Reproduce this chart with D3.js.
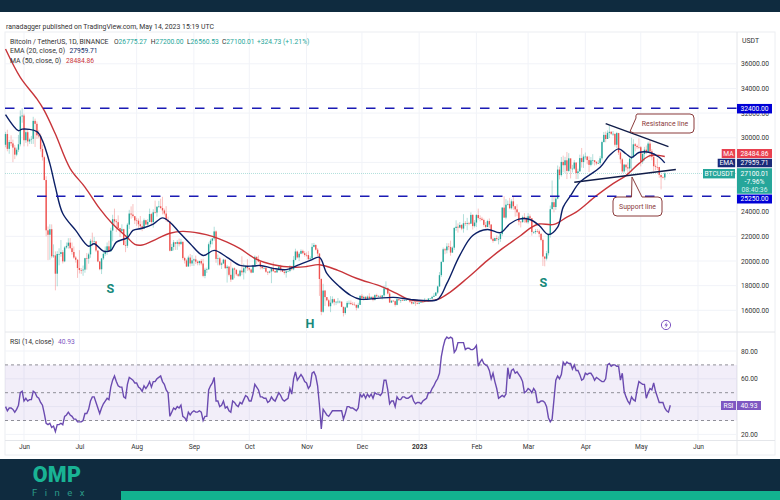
<!DOCTYPE html>
<html>
<head>
<meta charset="utf-8">
<style>
  html, body { margin: 0; padding: 0; background: #fff; }
  svg { display: block; }
  text { font-family: Roboto, "Open Sans", sans-serif; }
</style>
<script src="https://cdn.jsdelivr.net/npm/d3@7"></script>
</head>
<body>
<svg id="chart" width="780" height="500"></svg>
<script>
// daily candles, first one is 2022-05-22
const firstDay = Date.UTC(2022, 4, 22)
const firstOpen = 29430

const closes = [
  30300,29100,29650,29540,29200,28630,29030,29470,31730,31800,
  29800,30450,29700,29860,29910,31370,31130,30200,30110,29090,28420,26570,22490,22130,22580,20380,20450,18970,20570,20570,20720,19970,21100,21230,21490,21040,20730,20280,20100,19430,
  19270,19240,19300,20230,20190,20540,21640,21590,21590,20850,19960,19330,20210,20580,20830,21190,20780,22470,23390,23220,23150,22680,22450,22580,21300,21240,22950,23850,23770,23640,23290,
  23270,22980,22820,22620,23310,22960,23170,23810,23160,23950,23930,24400,24440,24300,24100,23850,23340,23200,20830,21140,21520,21400,21530,21370,21560,20240,20040,19550,20280,19800,20050,
  20130,19950,19830,20000,19800,18790,19290,19320,21360,21650,21830,22400,20170,20220,19700,19800,20110,19420,19540,18880,18490,19400,19300,18920,18800,19220,19080,19410,19590,19420,
  19310,19060,19620,20340,20160,19950,19530,19420,19440,19130,19060,19150,19380,19180,19070,19260,19550,19330,19120,19040,19160,19200,19570,19330,20090,20770,20290,20590,20820,20630,20490,
  20480,20150,20210,21150,21300,20920,20600,18540,15880,17600,17070,16810,16330,16620,16900,16660,16690,16700,16700,16280,15780,16230,16600,16600,16520,16460,16430,16210,16440,17170,
  16970,17090,16890,17110,16970,17090,16840,17230,17130,17130,17080,17210,17780,17810,17360,16630,16780,16740,16440,16900,16820,16830,16780,16840,16840,16920,16700,16550,16630,16600,16540,
  16620,16680,16670,16850,16830,16950,16950,17090,17180,17440,17940,18850,19930,20950,20870,21180,21140,20680,21080,22680,22780,22710,22920,22630,23060,23010,23080,23030,23740,22830,23120,
  23730,23490,23430,23330,22930,22760,23240,22960,21800,21630,21860,21780,21780,22200,24330,23520,24570,24630,24280,24840,24440,24190,23950,23190,23160,23560,23490,23140,
  23630,23470,22350,22350,22430,22410,22200,21710,20360,20190,20630,22160,24200,24770,24380,25060,27420,26970,28040,27770,28170,27310,28330,27490,27490,27990,27140,27270,28350,28030,28470,
  28470,28190,27800,28170,28170,28040,27920,27950,28330,29650,30230,29900,30400,30480,30320,30320,29430,30380,28800,28250,27270,27820,27600,27510,28300,28420,29470,29340,29240,29230,
  28070,28680,29030,28850,29530,28900,28450,27690,27630,27620,26990,26800,26780,27100
]
const highs = [
  30480,30650,29830,30200,29850,29400,29200,30230,32220,32400,
  31950,30650,30690,29950,30150,31700,31550,31320,30640,30340,29440,28540,26880,22800,22980,22970,21350,20780,20800,21030,21700,20880,21200,21500,21850,21860,21500,21180,20400,20150,
  20880,19430,19630,20260,20650,20670,21800,22300,21950,21600,20850,20000,20250,20850,21180,21500,21650,22700,23750,24250,23400,23700,22650,22980,22620,21660,23090,24150,24430,24620,23500,
  23500,23450,23650,23230,23450,23350,23400,24250,23900,24200,24900,24450,24880,25050,25210,24250,24450,23600,23200,21380,21700,21520,21680,21820,21800,21560,20340,20150,20430,20570,20480,
  20200,20440,20050,20030,20150,20180,19450,19460,21500,21800,21850,22780,22480,20540,20340,19900,20180,20100,19680,19600,19950,19480,19480,19180,19000,19300,20380,19780,19630,20150,
  19480,19390,19690,20450,20360,20450,20050,19600,19500,19520,19150,19220,19500,19930,19220,19370,19680,19700,19350,19340,19240,19250,19680,19600,20400,21000,20850,20730,20950,20920,20800,
  20700,20800,20390,21450,21470,21350,21050,20650,18600,18150,17650,17080,16930,17150,17130,16950,16750,17000,16800,16740,16300,16300,16750,16800,16800,16680,16650,16490,16610,17240,
  17320,17190,17160,17200,17380,17120,17140,17300,17350,17230,17260,17240,18000,18350,17850,17520,16800,16810,16800,17040,16900,16860,16900,16860,16860,16940,16960,16790,16650,16650,16640,
  16630,16770,16760,17000,16880,16990,16980,17180,17390,17490,18000,19100,19960,21090,21050,21450,21440,21650,21180,22750,23300,23050,23160,23000,23800,23240,23500,23180,23950,23800,23320,
  23810,24250,23700,23580,23440,23160,23350,23450,22990,21900,21900,22080,21990,22320,24380,25250,25020,24900,25120,25000,25250,24470,24600,23900,23220,23690,23880,23600,
  23880,23780,23480,22420,22600,22600,22550,22270,21820,20370,20820,22190,24500,26530,25250,25190,27750,27650,28440,28550,28450,28850,28750,28200,27800,28200,28000,27490,28630,29170,28650,
  28800,28530,28500,28440,28670,28180,28100,28170,28530,29770,30470,30500,30600,31000,30550,30550,30320,30480,30400,28900,28350,27880,27820,28000,28390,30000,29880,29570,29450,29950,
  29330,28870,29260,29370,29680,29820,29080,28630,27830,28320,27640,26950,26880,27200
]
const lows = [
  29230,28900,28700,29320,28020,28270,28500,28850,29300,31220,
  29300,29580,29300,29500,29500,29500,29250,29900,29950,28880,28150,26560,22000,20070,20100,20230,20250,17620,17950,19650,20350,19800,19900,21000,21000,20950,20520,20180,19870,18630,
  18990,18960,18800,19050,19300,19780,20260,21200,21320,20720,19900,19250,18940,20080,20420,20500,20770,20780,21600,22950,22350,22600,21950,22280,21270,20720,21050,22600,23430,23500,23000,
  22850,22680,22700,22420,22600,22900,22850,23150,22900,22700,23850,23600,24300,24200,23780,23700,23200,23150,20780,20800,20860,20900,20900,21180,21320,20100,19800,19520,19570,19550,19600,
  19600,19750,19650,19650,19650,18680,18600,19030,19300,21100,21350,21650,19850,19650,19600,19350,19750,19350,18250,18750,18300,18600,18600,18800,18700,18700,18850,18500,19000,19200,
  19170,19000,19030,19500,19750,19900,19320,19320,19350,19050,18860,19000,18200,19100,19050,19070,19200,19100,19100,18900,18650,19100,19090,19240,19250,20050,20200,20000,20550,20550,20350,
  20350,20050,20040,20180,21100,20850,20400,17170,15600,15800,16350,16730,16260,15850,16530,16400,16420,16550,16570,16250,15500,15650,16180,16460,16430,16400,16400,15990,16120,16430,
  16860,16790,16880,16890,16900,16900,16730,16790,17090,17090,17070,16880,17080,17660,17280,16600,16590,16680,16300,16400,16750,16600,16770,16790,16780,16820,16600,16470,16500,16360,16490,
  16500,16600,16620,16650,16760,16680,16910,16920,17120,17160,17320,17900,18700,19890,20550,20620,20880,20430,20670,20900,22450,22300,22650,22500,22300,22850,22500,22900,23000,22550,22720,
  22760,23360,23220,23260,22780,22640,22740,22700,21700,21480,21600,21620,21350,21550,22050,23500,23380,24500,24200,24180,24150,23600,23630,22900,22720,23100,23100,23060,
  23020,23230,22060,22200,22180,22300,21930,21600,19600,19570,20050,20450,21900,24300,23950,24150,25000,26620,26850,27200,27150,26650,27200,26700,27180,27400,26650,26650,27250,27580,27550,
  28250,27850,27220,27680,27840,27750,27780,27880,27800,28170,29620,29630,29900,29980,30230,30150,29280,29150,28600,27900,27150,27150,27350,27100,27200,27250,28380,28900,29070,29100,
  27680,27880,28130,28670,28830,28400,28170,27280,27370,27380,26750,25810,26700,26560
]
const rsiValues = [
  40,37,39,39,38,36,38,41,50,51,
  44,46,44,45,45,51,50,47,46,43,41,35,28,27,28,25,26,22,27,27,28,27,33,34,36,34,33,31,31,29,
  29,29,30,35,35,38,44,47,47,43,39,35,39,42,44,46,45,54,59,62,58,55,54,54,47,46,56,61,60,59,57,
  57,54,53,51,55,53,55,58,54,58,58,60,61,62,58,56,52,50,33,36,39,38,40,39,41,33,32,30,36,34,36,
  37,36,36,37,36,30,33,33,52,55,57,61,44,44,40,41,44,39,40,37,36,44,43,41,40,43,42,45,48,47,
  44,44,49,56,54,52,47,47,46,46,43,44,47,45,44,47,50,48,45,44,45,46,53,49,60,65,59,61,63,61,58,
  57,53,55,64,65,62,55,41,24,38,36,34,33,35,37,37,37,37,37,37,31,35,40,40,39,39,38,37,39,49,
  47,49,46,49,47,49,46,50,49,49,48,50,59,59,52,42,44,44,40,47,45,45,47,47,46,46,47,48,44,42,43,
  43,42,44,45,46,50,50,53,55,58,60,64,76,83,88,90,89,90,89,79,81,86,86,86,86,81,82,82,81,81,82,84,69,72,
  74,71,70,69,66,60,64,58,53,46,47,48,47,49,68,60,66,67,64,65,63,61,58,50,51,53,52,50,
  53,51,43,43,44,44,43,40,32,29,31,45,59,62,60,63,72,70,72,71,71,67,70,66,66,63,59,60,64,63,64,
  64,62,59,61,60,59,58,58,60,70,71,69,70,70,69,69,59,64,51,47,44,42,47,45,44,52,58,57,56,56,
  46,50,53,52,57,51,47,43,43,43,39,37,36,41
]

// moving averages at these day numbers
const emaDays = [0,7,9,17,20,24,27,31,38,45,48,53,57,60,66,69,74,80,85,89,94,100,107,113,120,127,134,138,145,152,158,165,170,174,181,187,192,201,210,219,226,234,239,246,253,261,268,273,278,284,289,294,299,302,306,311,322,327,332,336,339,343,349,354,357]
const emaValues = [31870,30575,30700,30500,29770,27900,26000,23850,22480,21200,21400,20800,20860,21530,21900,22480,22660,23000,23500,23150,22340,21400,20450,20860,20300,19640,19590,19640,19400,19300,19640,20050,20300,19000,17900,17200,16900,16970,17050,16890,16800,16890,18180,20450,22070,22560,22300,23000,23400,23370,22880,22150,22750,24370,25300,26400,27600,28550,29100,28700,28400,28800,28800,28420,27960]
const maDays = [0,8,17,21,27,35,43,51,58,66,70,74,82,89,96,105,112,120,127,136,145,156,163,170,180,190,204,212,218,226,234,241,250,261,269,279,285,289,297,304,309,320,329,336,343,349,357]
const maValues = [37200,34900,33150,32200,30300,27500,26000,24250,23000,21900,21350,21300,21800,22250,22400,22250,22000,21530,21000,20130,19700,19500,19550,19700,19240,18600,17900,17350,16900,16750,16890,17500,18600,20050,21000,22070,22750,23000,22970,23560,23960,25300,26280,26930,27900,28550,28480]

const priceTicks = [36000,34000,32000,30000,24000,22000,20000,18000,16000]
const gridPrices = [36000,34000,32000,30000,28000,26000,24000,22000,20000,18000,16000]
const rsiTicks = [80,60,20]
const gridRsi = [80,60,40,20]
const rsiLevels = [70,50,30]
const monthLabels = ['Jun','Jul','Aug','Sep','Oct','Nov','Dec','2023','Feb','Mar','Apr','May','Jun']
const monthDates = [[2022,5],[2022,6],[2022,7],[2022,8],[2022,9],[2022,10],[2022,11],[2023,0],[2023,1],[2023,2],[2023,3],[2023,4],[2023,5]].map(d => new Date(Date.UTC(d[0], d[1], 1)))

const levels = [32400, 25250]
const resistanceDays = [325, 359], resistancePrices = [31140, 29280]
const supportDays = [308, 363], supportPrices = [26390, 27420]

const dark = '#0f2b3f', up = '#26a69a', down = '#ef5350', blue = '#1a1ab4', navy = '#0b1f66', red = '#c8353a', purple = '#7e57c2', callout = '#8a3b3b', axisText = '#333'
const textSize = 6.9, numberSize = 6.7

const left = 5, right = 737, outer = 775
const svg = d3.select('#chart')

const x = d3.scaleUtc()
  .domain([new Date(Date.UTC(2022, 5, 1)), new Date(Date.UTC(2023, 5, 1))])
  .range([24, 698])
const dayDate = i => new Date(firstDay + i * 864e5)
const xd = i => x(dayDate(i))
const y = d3.scaleLinear().domain([16000, 36000]).range([310.3, 63.8])
const yr = d3.scaleLinear().domain([20, 80]).range([434.4, 351])

// page bands
svg.append('rect').attr('width', 780).attr('height', 12).attr('fill', dark)
svg.append('rect').attr('y', 459).attr('width', 780).attr('height', 41).attr('fill', dark)
svg.append('rect').attr('x', 121).attr('y', 491).attr('width', 659).attr('height', 9).attr('fill', '#12b28f')

// frame
svg.append('rect').attr('x', left).attr('y', 32).attr('width', outer - left).attr('height', 423)
  .attr('fill', '#fff').attr('stroke', '#eceef2')
svg.append('line').attr('x1', left).attr('x2', outer).attr('y1', 332).attr('y2', 332).attr('stroke', '#e4e6ea')
svg.append('line').attr('x1', left).attr('x2', outer).attr('y1', 440.5).attr('y2', 440.5).attr('stroke', '#e4e6ea')
svg.append('line').attr('x1', right).attr('x2', right).attr('y1', 32).attr('y2', 455).attr('stroke', '#e4e6ea')

// grid
const grid = svg.append('g').attr('stroke', '#f1f3f8')
grid.selectAll('.gy').data(gridPrices).enter().append('line')
  .attr('x1', left).attr('x2', right).attr('y1', d => y(d)).attr('y2', d => y(d))
grid.selectAll('.gr').data(gridRsi).enter().append('line')
  .attr('x1', left).attr('x2', right).attr('y1', d => yr(d)).attr('y2', d => yr(d))
grid.selectAll('.gx').data(monthDates).enter().append('line')
  .attr('x1', d => x(d)).attr('x2', d => x(d)).attr('y1', 32).attr('y2', 440)

// rsi band and levels
svg.append('rect').attr('x', left).attr('width', right - left)
  .attr('y', yr(70)).attr('height', yr(30) - yr(70)).attr('fill', purple).attr('fill-opacity', 0.1)
svg.selectAll('.rl').data(rsiLevels).enter().append('line')
  .attr('x1', left).attr('x2', right).attr('y1', d => yr(d)).attr('y2', d => yr(d))
  .attr('stroke', '#8f8f98').attr('stroke-dasharray', '3 3')

svg.append('path').datum(rsiValues)
  .attr('d', d3.line().x((d, i) => xd(i)).y(d => yr(d)))
  .attr('fill', 'none').attr('stroke', '#6b4bb0').attr('stroke-width', 1.4)
  .style('filter', 'blur(0.25px)')

// last price line
svg.append('line').attr('x1', left).attr('x2', right).attr('y1', y(27100)).attr('y2', y(27100))
  .attr('stroke', up).attr('stroke-opacity', 0.5).attr('stroke-dasharray', '1 1').attr('stroke-width', 0.7)

// candles, slightly soft like the screenshot
const candleData = closes.map((c, i) => ({ i, o: i ? closes[i - 1] : firstOpen, c, h: highs[i], l: lows[i] }))
const candles = svg.append('g').style('filter', 'blur(0.35px)')
candles.selectAll('.wick').data(candleData).enter().append('line')
  .attr('x1', d => xd(d.i)).attr('x2', d => xd(d.i))
  .attr('y1', d => y(d.h)).attr('y2', d => y(d.l))
  .attr('stroke', d => d.c >= d.o ? up : down).attr('stroke-opacity', 0.45).attr('stroke-width', 0.8)
candles.selectAll('.body').data(candleData).enter().append('rect')
  .attr('x', d => xd(d.i) - 0.7).attr('width', 1.4)
  .attr('y', d => y(Math.max(d.o, d.c)))
  .attr('height', d => Math.max(0.6, Math.abs(y(d.o) - y(d.c))))
  .attr('fill', d => d.c >= d.o ? up : down)

// moving averages
const curve = d3.line().curve(d3.curveCatmullRom)
svg.append('path')
  .attr('d', curve(maDays.map((d, i) => [xd(d), y(maValues[i])])))
  .attr('fill', 'none').attr('stroke', red).attr('stroke-width', 1.4)
svg.append('path')
  .attr('d', curve(emaDays.map((d, i) => [xd(d), y(emaValues[i])])))
  .attr('fill', 'none').attr('stroke', navy).attr('stroke-width', 1.4)

// horizontal levels
svg.append('line').attr('x1', left).attr('x2', right).attr('y1', y(levels[0])).attr('y2', y(levels[0]))
  .attr('stroke', blue).attr('stroke-width', 1.5).attr('stroke-dasharray', '9.5 9.5')
svg.append('line').attr('x1', 37).attr('x2', right).attr('y1', y(levels[1])).attr('y2', y(levels[1]))
  .attr('stroke', blue).attr('stroke-width', 1.5).attr('stroke-dasharray', '9.5 9.5')

// trend lines
svg.append('line').attr('x1', xd(resistanceDays[0])).attr('x2', xd(resistanceDays[1]))
  .attr('y1', y(resistancePrices[0])).attr('y2', y(resistancePrices[1]))
  .attr('stroke', '#101c48').attr('stroke-width', 1.4)
svg.append('line').attr('x1', xd(supportDays[0])).attr('x2', xd(supportDays[1]))
  .attr('y1', y(supportPrices[0])).attr('y2', y(supportPrices[1]))
  .attr('stroke', '#101c48').attr('stroke-width', 1.4)

// callouts
svg.append('path')
  .attr('d', 'M637 114H690a4 4 0 0 1 4 4V129a4 4 0 0 1 -4 4H634L630 131.5L636 118a4 4 0 0 1 1 -4Z')
  .attr('fill', '#fff').attr('stroke', callout).attr('stroke-width', 1)
svg.append('text').attr('x', 665).attr('y', 125.5).attr('text-anchor', 'middle')
  .attr('font-size', textSize).attr('fill', callout).text('Resistance line')
svg.append('path')
  .attr('d', 'M617 197H631.5L632 177L642 197H658a4 4 0 0 1 4 4V212a4 4 0 0 1 -4 4H617a4 4 0 0 1 -4 -4V201a4 4 0 0 1 4 -4Z')
  .attr('fill', '#fff').attr('stroke', callout).attr('stroke-width', 1)
svg.append('text').attr('x', 637.5).attr('y', 208.5).attr('text-anchor', 'middle')
  .attr('font-size', textSize).attr('fill', callout).text('Support line')

// pattern letters
const letters = [['S', 110.5, 292.5], ['H', 310, 327.5], ['S', 543.5, 286.5]]
svg.selectAll('.letter').data(letters).enter().append('text')
  .attr('x', d => d[1]).attr('y', d => d[2]).attr('text-anchor', 'middle')
  .attr('font-size', 12.6).attr('font-weight', 700).attr('fill', '#17897b').text(d => d[0])

// events icon
svg.append('circle').attr('cx', 666).attr('cy', 325).attr('r', 4.6).attr('fill', '#fff').attr('stroke', purple)
svg.append('path').attr('d', 'M667 321.8L664.4 325.6H666.2L665.2 328.2L668 324.4H666.2Z').attr('fill', purple)

// axes
const styleAxis = g => {
  g.select('.domain').remove()
  g.selectAll('line').remove()
  g.selectAll('text').attr('fill', axisText).attr('font-size', numberSize)
}
svg.append('g').attr('transform', `translate(${right},0)`)
  .call(d3.axisRight(y).tickValues(priceTicks).tickFormat(d3.format('.2f')).tickSize(0).tickPadding(4))
  .call(styleAxis)
svg.append('g').attr('transform', `translate(${right},0)`)
  .call(d3.axisRight(yr).tickValues(rsiTicks).tickFormat(d3.format('.2f')).tickSize(0).tickPadding(4))
  .call(styleAxis)
svg.append('g').attr('transform', 'translate(0,441)')
  .call(d3.axisBottom(x).tickValues(monthDates).tickFormat((d, i) => monthLabels[i]).tickSize(0).tickPadding(3))
  .call(styleAxis)
  .selectAll('text').attr('font-weight', (d, i) => monthLabels[i] === '2023' ? 700 : 400)

// header and legend
const label = (tx, ty, str, fill, size, anchor) => svg.append('text')
  .attr('x', tx).attr('y', ty).attr('fill', fill || axisText)
  .attr('font-size', size || textSize).attr('text-anchor', anchor || 'start').text(str)
label(6, 28.5, 'ranadagger published on TradingView.com, May 14, 2023 15:19 UTC')
label(10, 43.5, 'Bitcoin / TetherUS, 1D, BINANCE')
const ohlc = [['O', '26775.27', 114], ['H', '27200.00', 150.7], ['L', '26560.53', 187], ['C', '27100.01', 222]]
ohlc.forEach(d => {
  const t = label(d[2], 43.5, d[0], axisText, numberSize)
  t.append('tspan').attr('fill', up).text(d[1])
})
label(257, 43.5, '+324.73 (+1.21%)', up, numberSize)
label(10, 53, 'EMA (20, close, 0)')
label(69.5, 53, '27959.71', navy, numberSize)
label(10, 63, 'MA (50, close, 0)')
label(66, 63, '28484.86', red, numberSize)
label(10, 343.5, 'RSI (14, close)')
label(58, 343.5, '40.93', purple, numberSize)
label(742, 43, 'USDT')

// price tags
const tag = (x0, w, yc, h, fill, str) => {
  svg.append('rect').attr('x', x0).attr('y', yc - h / 2).attr('width', w).attr('height', h).attr('fill', fill)
  if (str) label(x0 + w / 2, yc + 2.4, str, '#fff', numberSize, 'middle')
}
tag(737, 35, 108.7, 9.5, '#0000d6', '32400.00')
tag(737, 35, 199, 9, '#0000d6', '25250.00')
tag(721.7, 13.5, 153.5, 9, '#e8404f', 'MA')
tag(737, 35, 153.5, 9, '#e8404f', '28484.86')
tag(717.7, 17.5, 163, 8.5, '#1a2a78', 'EMA')
tag(737, 35, 163, 8.5, '#1a2a78', '27959.71')
tag(703, 32, 173.7, 9.4, up, 'BTCUSDT')
tag(737, 35, 181, 25.5, up)
label(754.5, 175.5, '27100.01', '#fff', numberSize, 'middle')
label(754.5, 183.5, '-7.96%', '#fff', numberSize, 'middle')
label(754.5, 191.5, '08:40:36', '#d6f2ee', numberSize, 'middle')
tag(721, 15, 405.5, 9, purple, 'RSI')
tag(737, 24, 405.5, 9, purple, '40.93')

// logo
svg.append('text').attr('x', 57).attr('y', 482).attr('text-anchor', 'middle')
  .attr('font-size', 21.5).attr('font-weight', 900).attr('fill', '#19b394').attr('letter-spacing', 0.3).text('OMP')
svg.append('text').attr('x', 32).attr('y', 495.5)
  .attr('font-size', 9.5).attr('fill', '#2b9a88').attr('letter-spacing', 7.5).text('Finex')
</script>
</body>
</html>
